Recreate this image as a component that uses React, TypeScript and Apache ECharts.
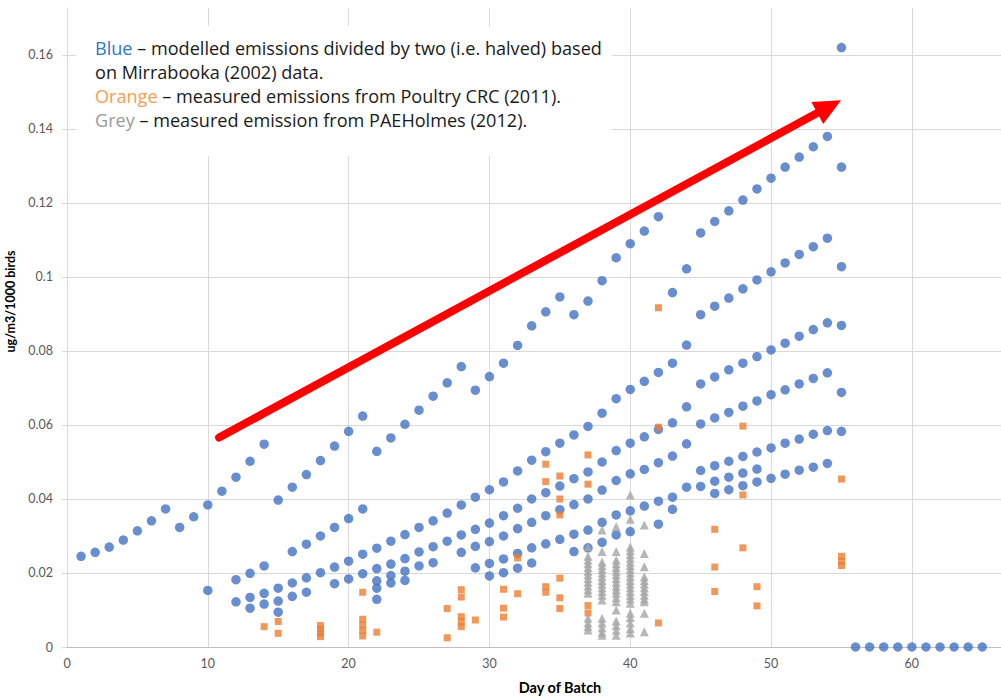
import React, { useEffect, useRef } from "react";
import * as echarts from "echarts";

// Blue – modelled emissions (halved), grouped by day of batch
const blueDays = [
  1, 2, 3, 4, 5, 6, 7, 8, 9, 10, 11, 12, 13, 14, 15, 16, 17, 18, 19, 20,
  21, 22, 23, 24, 25, 26, 27, 28, 29, 30, 31, 32, 33, 34, 35, 36, 37, 38, 39, 40,
  41, 42, 43, 44, 45, 46, 47, 48, 49, 50, 51, 52, 53, 54, 55,
  56, 57, 58, 59, 60, 61, 62, 63, 64, 65,
];
const blueValues: number[][] = [
  [0.0245], [0.0256], [0.027], [0.0289], [0.0314], [0.0341], [0.0373], [0.0323], [0.0352],
  [0.0384, 0.0153],
  [0.0421],
  [0.0459, 0.0182, 0.0122],
  [0.0502, 0.0199, 0.0134, 0.0105],
  [0.0548, 0.0219, 0.0145, 0.0116],
  [0.0397, 0.0159, 0.0124, 0.0094],
  [0.0432, 0.0258, 0.0173, 0.0137],
  [0.0466, 0.0278, 0.0187, 0.0148],
  [0.0504, 0.03, 0.0201],
  [0.0543, 0.0323, 0.0216, 0.0171],
  [0.0583, 0.0347, 0.0232, 0.0184],
  [0.0624, 0.0373, 0.0251, 0.0198],
  [0.0529, 0.0267, 0.0212, 0.0179, 0.0159, 0.0129],
  [0.0565, 0.0286, 0.0224, 0.0193, 0.0173],
  [0.0602, 0.0304, 0.0239, 0.0205, 0.018],
  [0.064, 0.0323, 0.0257, 0.0219],
  [0.0678, 0.0341, 0.0271, 0.0228],
  [0.0714, 0.0362, 0.0286],
  [0.0758, 0.0384, 0.0303, 0.0256],
  [0.0694, 0.0405, 0.0318, 0.0272, 0.0214],
  [0.0731, 0.0425, 0.0335, 0.0285, 0.0226, 0.0192],
  [0.0767, 0.0446, 0.0355, 0.03, 0.0238, 0.0201],
  [0.0815, 0.0476, 0.0375, 0.032, 0.0253, 0.0213],
  [0.0868, 0.0505, 0.04, 0.0337, 0.0268, 0.0227],
  [0.0906, 0.0528, 0.0417, 0.0355, 0.0279],
  [0.0946, 0.0551, 0.0435, 0.0371, 0.0291],
  [0.0898, 0.0573, 0.0455, 0.0385, 0.0305, 0.0258],
  [0.0935, 0.0596, 0.0473, 0.04, 0.0316, 0.0268],
  [0.099, 0.0632, 0.05, 0.0424, 0.0337, 0.0283],
  [0.1052, 0.0671, 0.0531, 0.045, 0.0357, 0.0303],
  [0.109, 0.0696, 0.0551, 0.0468, 0.0368, 0.0312],
  [0.1124, 0.0718, 0.0568, 0.048, 0.0381],
  [0.1163, 0.0742, 0.0588, 0.0498, 0.0394, 0.0332],
  [0.0958, 0.0767, 0.0606, 0.0516, 0.0405, 0.0372],
  [0.1022, 0.0816, 0.0649, 0.0549, 0.0432],
  [0.1119, 0.0898, 0.0711, 0.0603, 0.0477, 0.0434],
  [0.115, 0.0921, 0.073, 0.0619, 0.049, 0.0448, 0.0415],
  [0.1179, 0.0943, 0.0749, 0.0634, 0.0502, 0.0459, 0.0425],
  [0.1208, 0.0968, 0.0767, 0.0651, 0.0515, 0.047, 0.0436],
  [0.1238, 0.0992, 0.0785, 0.0665, 0.0527, 0.0481, 0.0446],
  [0.1267, 0.1014, 0.0803, 0.0682, 0.0538, 0.0456],
  [0.1297, 0.1038, 0.0821, 0.0695, 0.0551, 0.0467],
  [0.1324, 0.1061, 0.084, 0.0711, 0.0562, 0.0478],
  [0.1352, 0.1082, 0.0858, 0.0726, 0.0575, 0.0486],
  [0.138, 0.1105, 0.0876, 0.0741, 0.0585, 0.0496],
  [0.162, 0.1297, 0.1028, 0.0869, 0.0688, 0.0583],
  [0], [0], [0], [0], [0], [0], [0], [0], [0], [0],
];

// Orange – measured emissions, Poultry CRC (2011)
const orangeDays = [14, 15, 18, 21, 22, 27, 28, 29, 31, 32, 34, 35, 37, 42, 46, 48, 49, 55];
const orangeValues: number[][] = [
  [0.0055],
  [0.0069, 0.0037],
  [0.0058, 0.0048, 0.0038, 0.0028],
  [0.0148, 0.0075, 0.006, 0.0045, 0.003],
  [0.004],
  [0.0104, 0.0025],
  [0.0155, 0.0135, 0.0082, 0.0068, 0.0055],
  [0.0073],
  [0.0156, 0.0105, 0.0081],
  [0.0241, 0.0144],
  [0.0494, 0.0447, 0.0163, 0.0148],
  [0.0462, 0.04, 0.0357, 0.0186, 0.0133, 0.0104],
  [0.0519, 0.044, 0.0112, 0.0092],
  [0.0917, 0.0594, 0.0065],
  [0.0318, 0.0216, 0.015],
  [0.0597, 0.0411, 0.0268],
  [0.0163, 0.0111],
  [0.0454, 0.0245, 0.0232, 0.022],
];

// Grey – measured emission, PAEHolmes (2012)
const greyDays = [37, 38, 39, 40, 41];
const greyValues: number[][] = [
  [0.0271, 0.0245, 0.0235, 0.0225, 0.0215, 0.0205, 0.0195, 0.0185, 0.0175, 0.0165, 0.0155, 0.0145, 0.0078, 0.0065, 0.0055, 0.0046],
  [0.0316, 0.0258, 0.023, 0.022, 0.021, 0.02, 0.019, 0.018, 0.017, 0.016, 0.015, 0.014, 0.0127, 0.0078, 0.0065, 0.0052, 0.004, 0.0032],
  [0.0325, 0.0258, 0.0235, 0.0225, 0.0215, 0.0205, 0.0195, 0.0185, 0.0175, 0.0165, 0.0155, 0.0145, 0.0133, 0.0122, 0.01, 0.007, 0.0058, 0.0045, 0.0032],
  [0.0411, 0.0345, 0.027, 0.026, 0.025, 0.024, 0.023, 0.022, 0.021, 0.02, 0.019, 0.018, 0.017, 0.016, 0.015, 0.014, 0.013, 0.0118, 0.0092, 0.008, 0.0065, 0.005, 0.0038],
  [0.033, 0.0253, 0.0217, 0.019, 0.018, 0.017, 0.016, 0.015, 0.014, 0.013, 0.0122, 0.0091, 0.0041],
];

// Trend arrow (data coordinates)
const arrowFrom = [10.8, 0.0566];
const arrowTo = [54.97, 0.1478];

const noteLines = [
  "{b|Blue} – modelled emissions divided by two (i.e. halved) based",
  "on Mirrabooka (2002) data.",
  "{o|Orange} – measured emissions from Poultry CRC (2011).",
  "{g|Grey} – measured emission from PAEHolmes (2012).",
];

function pairs(days: number[], values: number[][]): number[][] {
  const out: number[][] = [];
  days.forEach((d, i) => values[i].forEach((v) => out.push([d, v])));
  return out;
}

const FONT = "Lato, 'Liberation Sans', sans-serif";
const NOTE_FONT = "'Open Sans', 'Liberation Sans', sans-serif";
const NOTE_SIZE = 18.1;

export default function App() {
  const ref = useRef<HTMLDivElement>(null);
  useEffect(() => {
    if (!ref.current) return;
    const chart = echarts.init(ref.current, undefined, { renderer: "svg" });
    chart.setOption({
      animation: false,
      backgroundColor: "#ffffff",
      grid: { left: 67, right: 0, top: 8, bottom: 51, containLabel: false, outerBoundsMode: "none" },
      xAxis: {
        type: "value",
        min: 0,
        max: 66.33,
        interval: 10,
        name: "Day of Batch",
        nameLocation: "middle",
        nameGap: 33,
        nameTextStyle: { fontFamily: FONT, fontSize: 14.5, fontWeight: "bold", color: "#000", padding: [0, 0, 0, 52] },
        axisLine: { show: true, lineStyle: { color: "#bfbfbf", width: 1 } },
        axisTick: { show: false },
        axisLabel: { color: "#595959", fontFamily: FONT, fontSize: 12.5, margin: 10, showMaxLabel: false },
        splitLine: { show: true, showMaxLine: false, lineStyle: { color: "#d9d9d9", width: 1 } },
      },
      yAxis: {
        type: "value",
        min: 0,
        max: 0.1727,
        interval: 0.02,
        name: "ug/m3/1000 birds",
        nameLocation: "middle",
        nameGap: 43,
        nameRotate: 90,
        nameTextStyle: { fontFamily: FONT, fontSize: 12.5, fontWeight: "bold", color: "#000", padding: [0, 0, 0, 52] },
        axisLine: { show: true, lineStyle: { color: "#d9d9d9", width: 1 } },
        axisTick: { show: true, length: 5, lineStyle: { color: "#d9d9d9" } },
        axisLabel: {
          color: "#595959",
          fontFamily: FONT,
          fontSize: 12.5,
          margin: 14,
          showMaxLabel: false,
          formatter: (v: number) => String(parseFloat(v.toFixed(2))),
        },
        splitLine: { show: true, showMaxLine: false, lineStyle: { color: "#d9d9d9", width: 1 } },
      },
      series: [
        {
          name: "Blue",
          type: "scatter",
          symbol: "circle",
          symbolSize: 9.5,
          itemStyle: { color: "#4472c4" },
          data: pairs(blueDays, blueValues),
          z: 2,
        },
        {
          name: "Orange",
          type: "scatter",
          symbol: "rect",
          symbolSize: 7,
          itemStyle: { color: "#ed7d31" },
          data: pairs(orangeDays, orangeValues),
          z: 3,
        },
        {
          name: "Grey",
          type: "scatter",
          symbol: "triangle",
          symbolSize: 9,
          itemStyle: { color: "#a5a5a5" },
          data: pairs(greyDays, greyValues),
          z: 4,
        },
      ],
    });

    const p0 = chart.convertToPixel({ gridIndex: 0 }, arrowFrom) as number[];
    const p1 = chart.convertToPixel({ gridIndex: 0 }, arrowTo) as number[];
    const dx = p1[0] - p0[0];
    const dy = p1[1] - p0[1];
    const len = Math.sqrt(dx * dx + dy * dy);
    const ux = dx / len;
    const uy = dy / len;
    const headLen = 27;
    const headHalf = 12.5;
    const bx = p1[0] - ux * headLen;
    const by = p1[1] - uy * headLen;

    chart.setOption({
      graphic: [
        {
          type: "rect",
          z: 10,
          shape: { x: 76, y: 26, width: 536, height: 130 },
          style: { fill: "#ffffff" },
        },
        {
          type: "text",
          z: 11,
          x: 95,
          y: 36,
          style: {
            text: noteLines.join("\n"),
            font: `${NOTE_SIZE}px ${NOTE_FONT}`,
            fill: "#1a1a1a",
            lineHeight: 24,
            rich: {
              b: { fill: "#2e78c6", fontSize: NOTE_SIZE, fontFamily: NOTE_FONT, lineHeight: 24 },
              o: { fill: "#f59d52", fontSize: NOTE_SIZE, fontFamily: NOTE_FONT, lineHeight: 24 },
              g: { fill: "#9a9a9a", fontSize: NOTE_SIZE, fontFamily: NOTE_FONT, lineHeight: 24 },
            },
          },
        },
        {
          type: "line",
          z: 12,
          shape: { x1: p0[0], y1: p0[1], x2: bx + ux * 2, y2: by + uy * 2 },
          style: { stroke: "#ff0000", lineWidth: 8, lineCap: "round" },
        },
        {
          type: "polygon",
          z: 12,
          shape: {
            points: [
              [p1[0], p1[1]],
              [bx - uy * headHalf, by + ux * headHalf],
              [bx + uy * headHalf, by - ux * headHalf],
            ],
          },
          style: { fill: "#ff0000" },
        },
      ],
    });

    return () => chart.dispose();
  }, []);
  return <div ref={ref} style={{ position: "absolute", left: 0, top: 0, width: 1001, height: 698 }} />;
}
